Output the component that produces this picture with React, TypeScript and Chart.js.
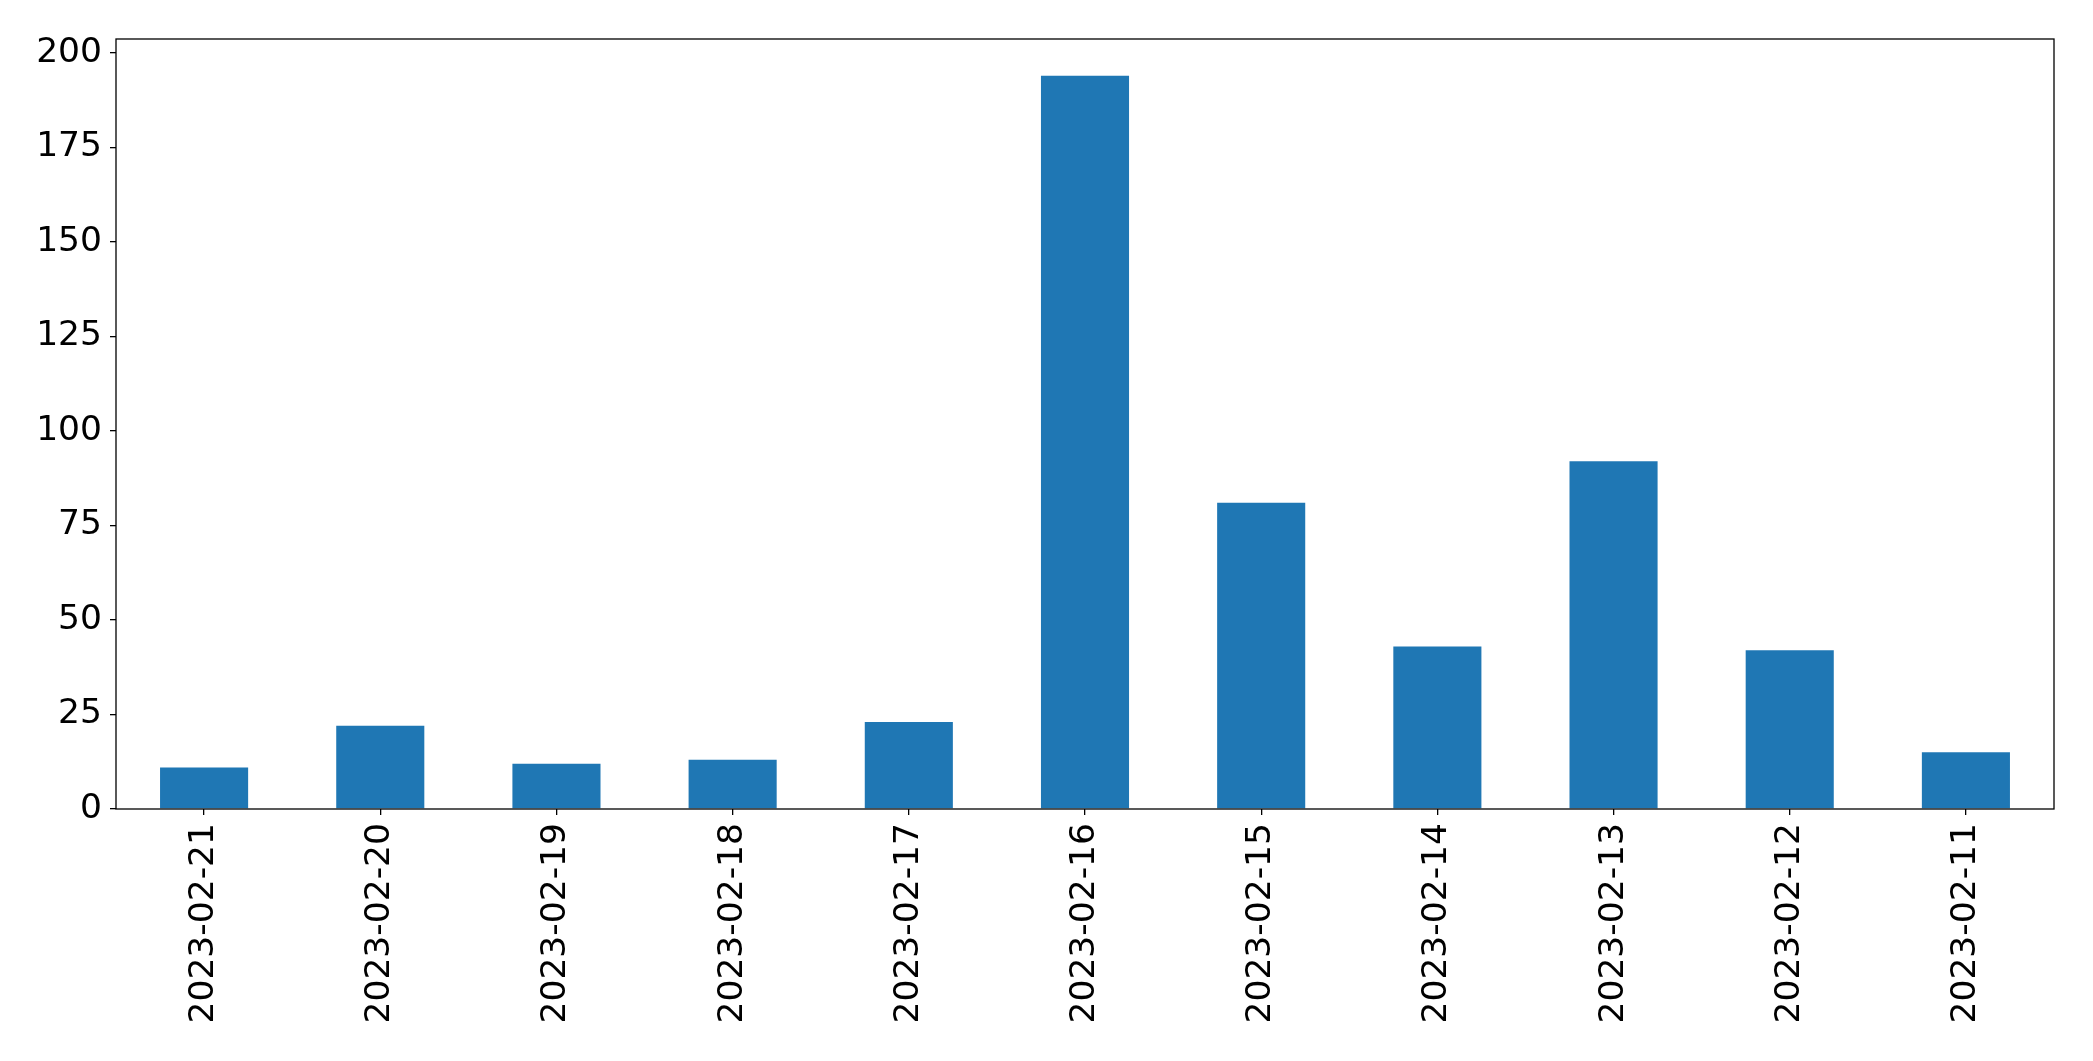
import React, { useEffect, useRef } from "react";
import { Chart, registerables } from "chart.js";

Chart.register(...registerables);

const categories = [
  "2023-02-21", "2023-02-20", "2023-02-19", "2023-02-18", "2023-02-17", "2023-02-16",
  "2023-02-15", "2023-02-14", "2023-02-13", "2023-02-12", "2023-02-11",
];
const counts = [11, 22, 12, 13, 23, 194, 81, 43, 92, 42, 15];
const yTicks = [0, 25, 50, 75, 100, 125, 150, 175, 200];

const W = 2093;
const H = 1061;
const PLOT_LEFT = 116;
const PLOT_RIGHT = 2054;
const PLOT_TOP = 39;
const PLOT_BOTTOM = 809;

const frame = {
  id: "frame",
  afterDatasetsDraw(chart: any) {
    const { ctx, chartArea } = chart;
    ctx.save();
    ctx.strokeStyle = "#000";
    ctx.lineWidth = 1.3;
    ctx.strokeRect(chartArea.left, chartArea.top, chartArea.right - chartArea.left, chartArea.bottom - chartArea.top);
    ctx.restore();
  },
};

export default function App() {
  const ref = useRef<HTMLCanvasElement | null>(null);
  useEffect(() => {
    document.body.style.margin = "0";
    const maxVal = Math.max(...counts) * 1.05;
    const chart = new Chart(ref.current as HTMLCanvasElement, {
      type: "bar",
      data: {
        labels: categories,
        datasets: [
          {
            data: counts,
            backgroundColor: "#1f77b4",
            borderWidth: 0,
            barPercentage: 0.5,
            categoryPercentage: 1,
          },
        ],
      },
      options: {
        animation: false,
        responsive: false,
        maintainAspectRatio: false,
        layout: { padding: { left: 0, top: PLOT_TOP, right: W - PLOT_RIGHT, bottom: 0 } },
        plugins: { legend: { display: false }, tooltip: { enabled: false } },
        scales: {
          x: {
            type: "category",
            offset: true,
            grid: { display: true, offset: false, drawOnChartArea: false, tickLength: 6, color: "#000", lineWidth: 1.3 },
            border: { display: false },
            ticks: {
              maxRotation: 90,
              minRotation: 90,
              autoSkip: false,
              padding: 8,
              color: "#000",
              font: { family: "DejaVu Sans", size: 34.5 },
            },
            afterFit(scale: any) {
              scale.height = H - PLOT_BOTTOM;
            },
          },
          y: {
            min: 0,
            max: maxVal,
            grid: { display: true, drawOnChartArea: false, tickLength: 6, color: "#000", lineWidth: 1.3 },
            border: { display: false },
            ticks: {
              stepSize: 25,
              includeBounds: false,
              padding: 8,
              color: "#000",
              font: { family: "DejaVu Sans", size: 34.5 },
            },
            afterBuildTicks(scale: any) {
              scale.ticks = yTicks.map((v) => ({ value: v }));
            },
            afterFit(scale: any) {
              scale.width = PLOT_LEFT;
            },
          },
        },
      },
      plugins: [frame],
    });
    return () => chart.destroy();
  }, []);
  return (
    <div style={{ position: "absolute", left: 0, top: 0, width: W, height: H, background: "#fff" }}>
      <canvas ref={ref} width={W} height={H} style={{ width: W, height: H, display: "block" }} />
    </div>
  );
}
